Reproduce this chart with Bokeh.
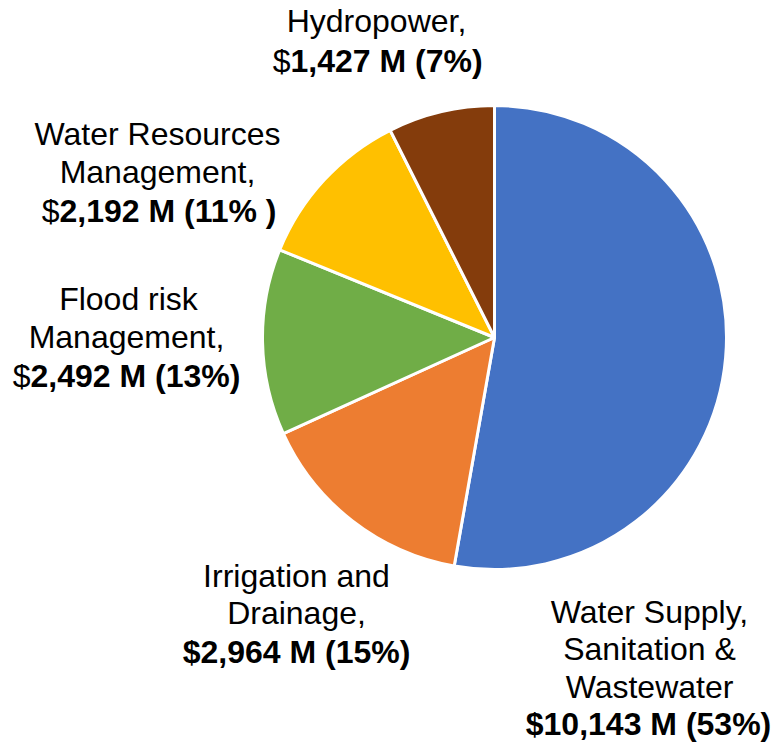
import math
from bokeh.plotting import figure
from bokeh.models import Range1d, ColumnDataSource
from bokeh.core.properties import value
from bokeh.embed import file_html
from bokeh.resources import INLINE

# ---- data ----
categories = ["Water Supply, Sanitation & Wastewater", "Irrigation and Drainage",
              "Flood risk Management", "Water Resources Management", "Hydropower"]
values_musd = [10143, 2964, 2492, 2192, 1427]
percent_text = ["53%", "15%", "13%", "11% ", "7%"]
colors = ["#4472C4", "#ED7D31", "#70AD47", "#FFC000", "#843C0C"]

W, H = 771, 744


def yd(Y):
    return H - Y  # screen Y -> data y


p = figure(width=W, height=H, output_backend="svg", toolbar_location=None,
           x_range=Range1d(0, W), y_range=Range1d(0, H),
           x_axis_type=None, y_axis_type=None, min_border=0)
p.grid.visible = False
p.outline_line_color = None
p.background_fill_color = "white"
p.border_fill_color = "white"

total = sum(values_musd)
starts, ends = [], []
cum = 0.0
for v in values_musd:
    starts.append(math.pi / 2 - 2 * math.pi * cum / total)
    cum += v
    ends.append(math.pi / 2 - 2 * math.pi * cum / total)

cx, cy, r = 494, 337, 232
src = ColumnDataSource(dict(start=starts, end=ends, color=colors))
p.wedge(x=cx, y=yd(cy), radius=r, start_angle="start", end_angle="end",
        direction="clock", fill_color="color", line_color="white", line_width=3,
        source=src)

FONT = value("Liberation Sans")
FS = "32px"

amount = [f"{v:,} M ({pc})" for v, pc in zip(values_musd, percent_text)]

# plain text lines: (text, x_center, vertical position)
plain_lines = [
    ("Water Supply,", 649, 611), ("Sanitation &", 649, 648), ("Wastewater", 649, 686),
    ("Irrigation and", 296, 575), ("Drainage,", 296, 612),
    ("Flood risk", 128, 298), ("Management,", 126, 336),
    ("Water Resources", 157, 133), ("Management,", 157, 171),
    ("Hydropower,", 376, 20),
]
p.text(x=[l[1] for l in plain_lines], y=[yd(l[2]) for l in plain_lines],
       text=[l[0] for l in plain_lines], text_font=FONT, text_font_size=FS,
       text_align="center", text_baseline="alphabetic", text_color="black")

# fully bold amount lines (Water Supply, Irrigation)
p.text(x=[648, 296], y=[yd(723), yd(651)],
       text=["$" + amount[0], "$" + amount[1]], text_font=FONT, text_font_size=FS,
       text_font_style="bold", text_align="center", text_baseline="alphabetic",
       text_color="black")

# mixed lines: regular "$" then bold amount (Flood, WRM, Hydro)
split_x = [30, 59, 290]
base_y = [375, 210, 60]
p.text(x=split_x, y=[yd(b) for b in base_y], text=["$", "$", "$"],
       text_font=FONT, text_font_size=FS, text_align="right",
       text_baseline="alphabetic", text_color="black")
p.text(x=split_x, y=[yd(b) for b in base_y], text=[amount[2], amount[3], amount[4]],
       text_font=FONT, text_font_size=FS, text_font_style="bold", text_align="left",
       text_baseline="alphabetic", text_color="black")

open("out.html", "w").write(file_html(p, INLINE))
